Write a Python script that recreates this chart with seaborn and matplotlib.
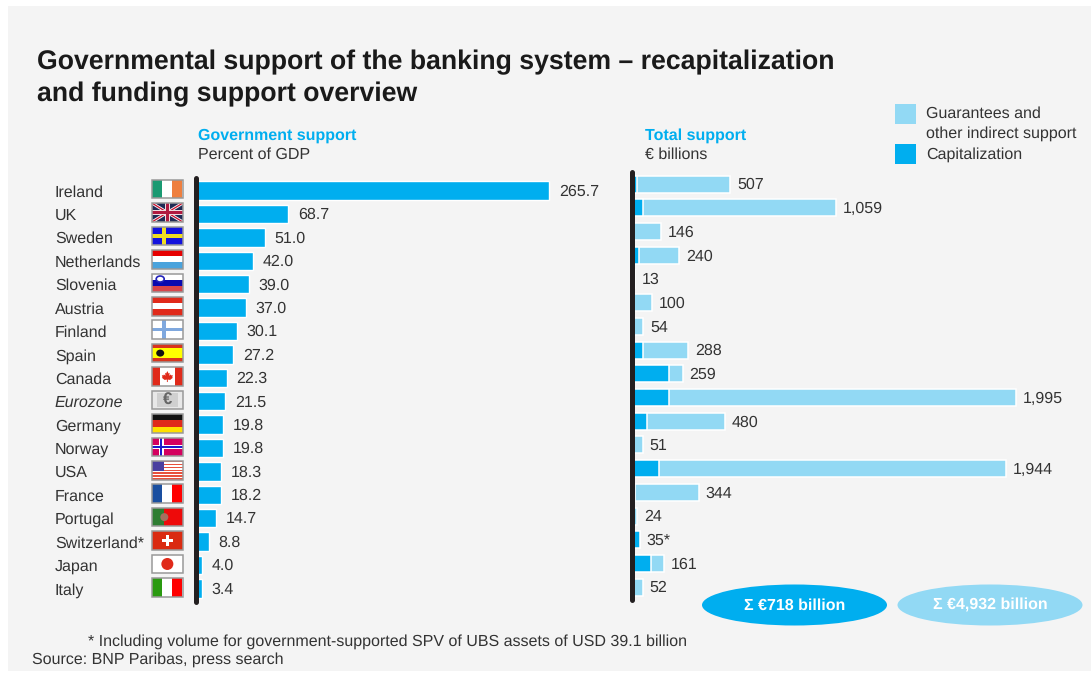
import matplotlib
matplotlib.use("Agg")
import matplotlib.pyplot as plt
import matplotlib.patches as mp
import pandas as pd
import seaborn as sns

# ---- data -------------------------------------------------------------
countries = ["Ireland", "UK", "Sweden", "Netherlands", "Slovenia", "Austria",
             "Finland", "Spain", "Canada", "Eurozone", "Germany", "Norway",
             "USA", "France", "Portugal", "Switzerland*", "Japan", "Italy"]
gdp_share = [265.7, 68.7, 51.0, 42.0, 39.0, 37.0, 30.1, 27.2, 22.3, 21.5,
             19.8, 19.8, 18.3, 18.2, 14.7, 8.8, 4.0, 3.4]
total_support = [507, 1059, 146, 240, 13, 100, 54, 288, 259, 1995, 480, 51,
                 1944, 344, 24, 35, 161, 52]
capitalization = [22, 55, 0, 32, 0, 0, 0, 55, 190, 190, 74, 0, 136, 10, 0,
                  35, 95, 0]
total_suffix = {"Switzerland*": "*"}

title_lines = ["Governmental support of the banking system \u2013 recapitalization",
               "and funding support overview"]
left_header = ("Government support", "Percent of GDP")
right_header = ("Total support", "\u20ac billions")
legend_lines = ["Guarantees and", "other indirect support", "Capitalization"]
sum_capitalization = "\u03a3 \u20ac718 billion"
sum_total = "\u03a3 \u20ac4,932 billion"
footnote = "* Including volume for government-supported SPV of UBS assets of USD 39.1 billion"
source = "Source: BNP Paribas, press search"

# ---- styling ------------------------------------------------------------
W, H = 1091, 673
DARK = "#00aeef"
LIGHT = "#92d9f4"
INK = "#333333"
TEXT_SIZE = 11.5
sns.set_style("white")
plt.rcParams["font.family"] = ["Liberation Sans", "DejaVu Sans"]
plt.rcParams["font.size"] = TEXT_SIZE
plt.rcParams["text.hinting"] = "no_hinting"

df = pd.DataFrame({"country": countries, "gdp": gdp_share,
                   "total": total_support, "cap": capitalization})

fig = plt.figure(figsize=(W / 100, H / 100), dpi=100, facecolor="white")
fig.add_artist(mp.Rectangle((8 / W, 2 / H), (W - 8) / W, (H - 8) / H,
                            transform=fig.transFigure, facecolor="#f4f4f4",
                            edgecolor="none", zorder=-5))


def bar_axes(x0, x1, y_first, y_last):
    """Axes whose 18 category rows run from y_first to y_last (pixels from the top)."""
    step = (y_last - y_first) / 17
    top, bottom = y_first - step / 2, y_last + step / 2
    ax = fig.add_axes([x0 / W, 1 - bottom / H, (x1 - x0) / W, (bottom - top) / H])
    ax.patch.set_alpha(0)
    return ax


def clean(ax):
    sns.despine(ax=ax, left=True, bottom=True)
    ax.set_xlabel("")
    ax.set_ylabel("")
    ax.set_xticks([])
    ax.tick_params(axis="y", length=0)


def nudge_down(labels, points):
    """Move bar labels down a little below the bar's centre line."""
    for t in labels:
        x, y = t.xyann
        t.xyann = (x, y - points)


# ---- left panel: support as a share of GDP -----------------------------
ax_gdp = bar_axes(197, 630, 190.6, 588.4)
sns.barplot(data=df, y="country", x="gdp", order=countries, color=DARK,
            saturation=1, width=0.79, ax=ax_gdp)
clean(ax_gdp)
ax_gdp.set_xlim(0, (630 - 197) / 1.325)
ax_gdp.tick_params(axis="y", pad=102.3, labelcolor=INK, labelsize=TEXT_SIZE)
for lab in ax_gdp.get_yticklabels():
    lab.set_ha("left")
    if lab.get_text() == "Eurozone":
        lab.set_style("italic")
nudge_down(ax_gdp.bar_label(ax_gdp.containers[0], labels=[f"{v:.1f}" for v in gdp_share],
                            padding=7, color=INK, fontsize=TEXT_SIZE), 0.8)

# ---- right panel: total support, capitalization drawn over the total ----
ax_tot = bar_axes(632.8, 1085, 184.2, 587.2)
bar_style = dict(saturation=1, width=0.72, linewidth=1.1, edgecolor="white")
sns.barplot(data=df, y="country", x="total", order=countries, color=LIGHT,
            ax=ax_tot, **bar_style)
sns.barplot(data=df, y="country", x="cap", order=countries, color=DARK,
            ax=ax_tot, **bar_style)
clean(ax_tot)
ax_tot.set_yticklabels([])
ax_tot.set_xlim(0, (1085 - 632.8) / 0.192)
total_labels = [f"{v:,}" + total_suffix.get(c, "") for c, v in zip(countries, total_support)]
nudge_down(ax_tot.bar_label(ax_tot.containers[0], labels=total_labels, padding=5,
                            color=INK, fontsize=TEXT_SIZE), 0.7)

# ---- overlay in pixel coordinates: flags, rules, legend, totals ---------
cv = fig.add_axes([0, 0, 1, 1], zorder=5)
cv.set_xlim(0, W)
cv.set_ylim(H, 0)
cv.axis("off")
cv.patch.set_alpha(0)


def rect(x, y, w, h, color, clip=None, z=6):
    p = mp.Rectangle((x, y), w, h, facecolor=color, edgecolor="none", zorder=z)
    cv.add_patch(p)
    if clip is not None:
        p.set_clip_path(clip)
    return p


def vbands(x, y, w, h, colors, z=6):
    for i, c in enumerate(colors):
        rect(x + i * w / len(colors), y, w / len(colors), h, c, z=z)


def hbands(x, y, w, h, colors, z=6):
    for i, c in enumerate(colors):
        rect(x, y + i * h / len(colors), w, h / len(colors), c, z=z)


def cross(x, y, w, h, cx, thick, color, z=7):
    rect(x + cx * w - thick / 2, y, thick, h, color, z=z)
    rect(x, y + h / 2 - thick / 2, w, thick, color, z=z)


def maple_leaf(cx, cy, r, color):
    """Simplified maple leaf outline around (cx, cy), r is its half height."""
    shape = [(0, -1), (0.22, -0.55), (0.42, -0.68), (0.34, -0.15), (0.62, -0.38),
             (0.72, -0.2), (1, -0.25), (0.88, 0.12), (1, 0.22), (0.5, 0.62),
             (0.08, 0.55), (0.08, 1), (-0.08, 1), (-0.08, 0.55), (-0.5, 0.62),
             (-1, 0.22), (-0.88, 0.12), (-1, -0.25), (-0.72, -0.2), (-0.62, -0.38),
             (-0.34, -0.15), (-0.42, -0.68), (-0.22, -0.55)]
    cv.add_patch(mp.Polygon([(cx + a * r, cy + b * r) for a, b in shape],
                            facecolor=color, edgecolor="none", zorder=8))


def draw_flag(name, x, y, w, h):
    if name == "Ireland":
        vbands(x, y, w, h, ["#1a9a72", "white", "#ee7f3f"])
    elif name == "UK":
        rect(x, y, w, h, "#1f2a55")
        frame = rect(x, y, w, h, "none")
        for lw, col in ((3.0, "white"), (1.3, "#c8102e")):
            for ends in (((x, y), (x + w, y + h)), ((x, y + h), (x + w, y))):
                line, = cv.plot(*zip(*ends), color=col, lw=lw * 0.72, zorder=7,
                                solid_capstyle="butt")
                line.set_clip_path(frame)
        cross(x, y, w, h, 0.5, 5, "#f0dde0", z=8)
        cross(x, y, w, h, 0.5, 3, "#b01a40", z=9)
    elif name == "Sweden":
        rect(x, y, w, h, "#1212dd")
        cross(x, y, w, h, 0.38, 3.6, "#eedd22")
    elif name == "Netherlands":
        hbands(x, y, w, h, ["#e60000", "white", "#4aa3dc"])
    elif name == "Slovenia":
        hbands(x, y, w, h, ["white", "#0a0ab0", "#d8454a"])
        cv.add_patch(mp.Ellipse((x + 8, y + 5.5), 8, 6, facecolor="white",
                                edgecolor="#2222bb", lw=1.2, zorder=8))
    elif name == "Austria":
        hbands(x, y, w, h, ["#e02a1a", "white", "#e02a1a"])
    elif name == "Finland":
        rect(x, y, w, h, "white")
        cross(x, y, w, h, 0.38, 3.6, "#7fa8de")
    elif name == "Spain":
        rect(x, y, w, h * 0.25, "#d8341c")
        rect(x, y + h * 0.25, w, h * 0.5, "#ffff00")
        rect(x, y + h * 0.75, w, h * 0.25, "#d8341c")
        cv.add_patch(mp.Ellipse((x + 8, y + h / 2), 8, 7, facecolor="#111111",
                                edgecolor="none", zorder=8))
    elif name == "Canada":
        rect(x, y, w, h, "#e02a1a")
        rect(x + w * 0.25, y, w * 0.5, h, "white", z=7)
        maple_leaf(x + w / 2, y + h / 2, 5.5, "#e02a1a")
    elif name == "Eurozone":
        rect(x, y, w, h, "#e8e8e8")
        rect(x + 5, y + 2, w - 10, h - 4, "#d0d0d0")
        cv.text(x + w / 2, y + h / 2 + 0.5, "\u20ac", color="#666666", fontsize=12,
                fontweight="bold", ha="center", va="center", zorder=8)
    elif name == "Germany":
        hbands(x, y, w, h, ["#111111", "#e02a1a", "#ffe000"])
    elif name == "Norway":
        rect(x, y, w, h, "#d4005f")
        cross(x, y, w, h, 0.3, 4.6, "white")
        cross(x, y, w, h, 0.3, 1.9, "#1a1acc", z=8)
    elif name == "USA":
        hbands(x, y, w, h, ["#e8503c", "white"] * 6 + ["#e8503c"])
        rect(x, y, w * 0.4, h * 0.54, "#4a3f9f", z=8)
    elif name == "France":
        vbands(x, y, w, h, ["#1a4fa0", "white", "#ff0000"])
    elif name == "Portugal":
        rect(x, y, w, h, "#ee0a0a")
        rect(x, y, w * 0.4, h, "#2e7d32", z=7)
        cv.add_patch(mp.Circle((x + w * 0.4, y + h / 2), 4, facecolor="#a5705f",
                               edgecolor="none", zorder=8))
    elif name == "Switzerland*":
        rect(x, y, w, h, "#da2a10")
        rect(x + w / 2 - 1.8, y + h / 2 - 5.5, 3.6, 11, "white", z=7)
        rect(x + w / 2 - 5.5, y + h / 2 - 1.8, 11, 3.6, "white", z=7)
    elif name == "Japan":
        rect(x, y, w, h, "white")
        cv.add_patch(mp.Circle((x + w / 2, y + h / 2), 6, facecolor="#e02a1a",
                               edgecolor="none", zorder=8))
    elif name == "Italy":
        vbands(x, y, w, h, ["#2a9a10", "white", "#ff0000"])
    cv.add_patch(mp.Rectangle((x, y), w, h, fill=False, edgecolor="#999999",
                              lw=1.1, zorder=10))


for i, name in enumerate(countries):
    draw_flag(name, 152.2, 179.8 + i * 23.43, 30.3, 18.6)

# baseline rules of the two panels
for x, y0, y1 in ((195.5, 178, 602), (632.4, 172, 600)):
    cv.plot([x, x], [y0, y1], color="#231f20", lw=3.6, solid_capstyle="round", zorder=12)

# legend
rect(895, 104, 21, 20, LIGHT)
rect(895, 144, 21, 20, DARK)
for y, t in zip((114, 133.5, 154.5), legend_lines):
    cv.text(926, y, t, color=INK, fontsize=TEXT_SIZE, va="center", ha="left")

# sum badges
for cx, col, t in ((794.5, DARK, sum_capitalization), (990, LIGHT, sum_total)):
    cv.add_patch(mp.Ellipse((cx, 605), 185, 41, facecolor=col, edgecolor="none", zorder=6))
    cv.text(cx, 605.5, t, color="white", fontweight="bold", fontsize=TEXT_SIZE,
            ha="center", va="center", zorder=7)

# headings and notes
for y, t in zip((62, 94), title_lines):
    cv.text(37, y, t, color="#1a1a1a", fontweight="bold", fontsize=19.15, va="center", ha="left")
for x, (head, sub) in ((198, left_header), (645, right_header)):
    cv.text(x, 135.5, head, color=DARK, fontweight="bold", fontsize=TEXT_SIZE, va="center", ha="left")
    cv.text(x, 154.5, sub, color=INK, fontsize=TEXT_SIZE, va="center", ha="left")
cv.text(88, 642, footnote, color=INK, fontsize=TEXT_SIZE, va="center", ha="left")
cv.text(32, 660, source, color=INK, fontsize=TEXT_SIZE, va="center", ha="left")

fig.savefig("out.png", dpi=100, facecolor="white")
